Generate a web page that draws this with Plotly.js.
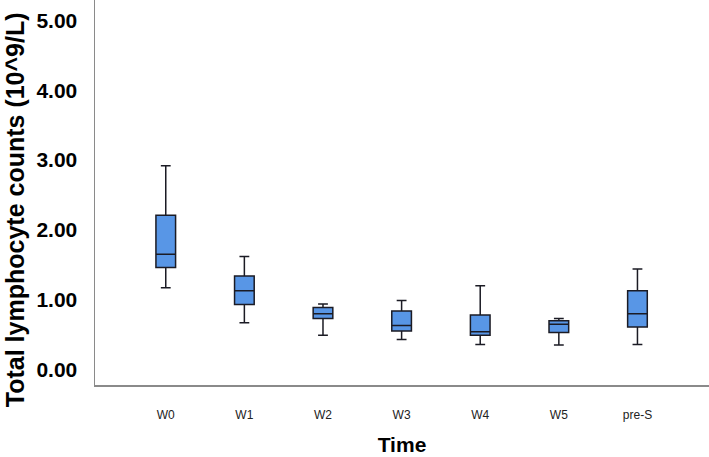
<!DOCTYPE html>
<html>
<head>
<meta charset="utf-8">
<script src="https://cdn.plot.ly/plotly-3.0.1.min.js"></script>
<style>html,body{margin:0;padding:0;background:#fff;}#chart{width:709px;height:457px;}</style>
</head>
<body>
<div id="chart"></div>
<script>
const categories = ["W0", "W1", "W2", "W3", "W4", "W5", "pre-S"];
const lowerWhisker = [1.17, 0.67, 0.49, 0.43, 0.36, 0.35, 0.36];
const q1Values     = [1.46, 0.93, 0.73, 0.55, 0.49, 0.53, 0.61];
const medianValues = [1.65, 1.13, 0.80, 0.63, 0.54, 0.65, 0.80];
const q3Values     = [2.21, 1.34, 0.89, 0.84, 0.78, 0.70, 1.13];
const upperWhisker = [2.92, 1.62, 0.94, 0.99, 1.20, 0.73, 1.44];
const yTickValues = [0, 1, 2, 3, 4, 5];
const yTickLabels = ["0.00", "1.00", "2.00", "3.00", "4.00", "5.00"];
const yTitle = "Total lymphocyte counts (10^9/L)";
const xTitle = "Time";

const trace = {
  type: "box",
  x: categories,
  q1: q1Values,
  median: medianValues,
  q3: q3Values,
  lowerfence: lowerWhisker,
  upperfence: upperWhisker,
  width: 0.25,
  whiskerwidth: 0.5,
  fillcolor: "#5896e6",
  line: { color: "#1b1b24", width: 1.5 },
  boxpoints: false,
  hoverinfo: "skip"
};

const layout = {
  width: 709,
  height: 457,
  margin: { l: 95, r: 0, t: 0, b: 72 },
  paper_bgcolor: "#fff",
  plot_bgcolor: "#fff",
  showlegend: false,
  font: { family: "Liberation Sans, Arial, sans-serif", color: "#000" },
  xaxis: {
    type: "category",
    range: [-0.9, 6.91],
    showline: true,
    linecolor: "#8a8a8a",
    linewidth: 1.5,
    showgrid: false,
    zeroline: false,
    ticks: "",
    ticklabelstandoff: 18,
    tickfont: { size: 12, color: "#222" },
    title: { text: xTitle, font: { size: 21, color: "#000", weight: "bold" }, standoff: 16 }
  },
  yaxis: {
    range: [-0.222, 5.294],
    tickvals: yTickValues,
    ticktext: yTickLabels,
    showline: true,
    linecolor: "#8a8a8a",
    linewidth: 1.5,
    showgrid: false,
    zeroline: false,
    ticks: "",
    ticklabelstandoff: 12,
    tickfont: { size: 21, color: "#000", weight: "bold" }
  },
  annotations: [{
    text: yTitle,
    xref: "paper", yref: "paper",
    x: -0.130, y: 0.4545,
    xanchor: "center", yanchor: "middle",
    textangle: -90,
    showarrow: false,
    font: { size: 25, color: "#000", weight: "bold" }
  }]
};

Plotly.newPlot("chart", [trace], layout, { displayModeBar: false, staticPlot: true });
</script>
</body>
</html>
